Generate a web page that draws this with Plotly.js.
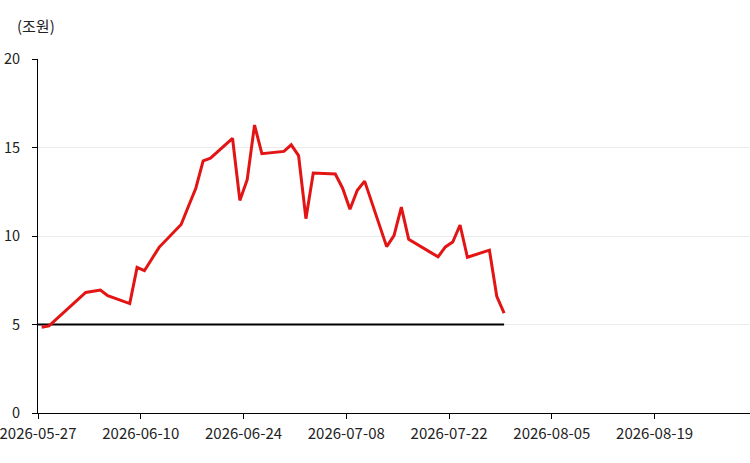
<!DOCTYPE html>
<html>
<head>
<meta charset="utf-8">
<script src="https://cdn.plot.ly/plotly-3.0.1.min.js"></script>
<style>html,body{margin:0;padding:0;background:#fff;}#chart{width:750px;height:463px;}</style>
</head>
<body>
<div id="chart"></div>
<script>
const dates = [
  '2026-05-27','2026-05-28','2026-06-02','2026-06-04','2026-06-05','2026-06-08','2026-06-09','2026-06-10',
  '2026-06-12','2026-06-15','2026-06-16','2026-06-17','2026-06-18','2026-06-19','2026-06-22','2026-06-23',
  '2026-06-24','2026-06-25','2026-06-26','2026-06-29','2026-06-30','2026-07-01','2026-07-02','2026-07-03',
  '2026-07-06','2026-07-07','2026-07-08','2026-07-09','2026-07-10','2026-07-13','2026-07-14','2026-07-15',
  '2026-07-16','2026-07-20','2026-07-21','2026-07-22','2026-07-23','2026-07-24','2026-07-27','2026-07-28',
  '2026-07-29'
];
const values = [
  4.85, 4.92, 6.81, 6.95, 6.63, 6.18, 8.23, 8.04,
  9.36, 10.65, 11.68, 12.7, 14.25, 14.4, 15.52, 12.01,
  13.18, 16.27, 14.65, 14.78, 15.15, 14.54, 10.98, 13.56,
  13.5, 12.7, 11.51, 12.58, 13.1, 9.4, 10.02, 11.63,
  9.81, 8.82, 9.38, 9.66, 10.62, 8.8, 9.2, 6.59,
  5.64
];
const refDates = ['2026-05-20', '2026-07-29'];
const refValues = [5, 5];
const yTicks = [0, 5, 10, 15, 20];
const xTicks = ['2026-05-27','2026-06-10','2026-06-24','2026-07-08','2026-07-22','2026-08-05','2026-08-19'];

const noon = d => d + ' 12:00';

const family = '"Noto Sans CJK KR", "Noto Sans", sans-serif';
const xFont = {family: family, size: 15, color: '#222'};
const yFont = {family: family, size: 14.5, color: '#222'};

const traces = [
  {
    x: refDates.map(noon), y: refValues, type: 'scatter', mode: 'lines',
    line: {color: '#000000', width: 2}, hoverinfo: 'skip'
  },
  {
    x: dates.map(noon), y: values, type: 'scatter', mode: 'lines',
    line: {color: '#e31414', width: 3}
  }
];

const layout = {
  width: 750, height: 463,
  margin: {l: 38, r: 0, t: 59, b: 50},
  paper_bgcolor: '#fff', plot_bgcolor: '#fff',
  showlegend: false,
  font: xFont,
  xaxis: {
    type: 'date',
    range: ['2026-05-27', '2026-09-01'],
    tickvals: xTicks, ticktext: xTicks,
    showgrid: false, zeroline: false,
    showline: true, linecolor: '#000', linewidth: 1,
    ticks: 'outside', ticklen: 5, tickcolor: '#000', tickwidth: 1,
    ticklabeloverflow: 'allow',
    ticklabelstandoff: 2,
    tickfont: xFont
  },
  yaxis: {
    range: [0, 20],
    tickvals: yTicks,
    showgrid: true, gridcolor: '#ebebeb', gridwidth: 1,
    zeroline: false,
    showline: true, linecolor: '#000', linewidth: 1,
    ticks: 'outside', ticklen: 5, tickcolor: '#000', tickwidth: 1,
    ticklabelstandoff: 9,
    ticklabeloverflow: 'allow',
    tickfont: yFont
  },
  annotations: [{
    text: '(조원)', xref: 'paper', yref: 'paper', x: -0.032, y: 1.0, yshift: 34,
    xanchor: 'left', yanchor: 'middle', showarrow: false,
    font: {family: family, size: 15, color: '#222'}
  }]
};

Plotly.newPlot('chart', traces, layout, {displayModeBar: false, staticPlot: true});
</script>
</body>
</html>
